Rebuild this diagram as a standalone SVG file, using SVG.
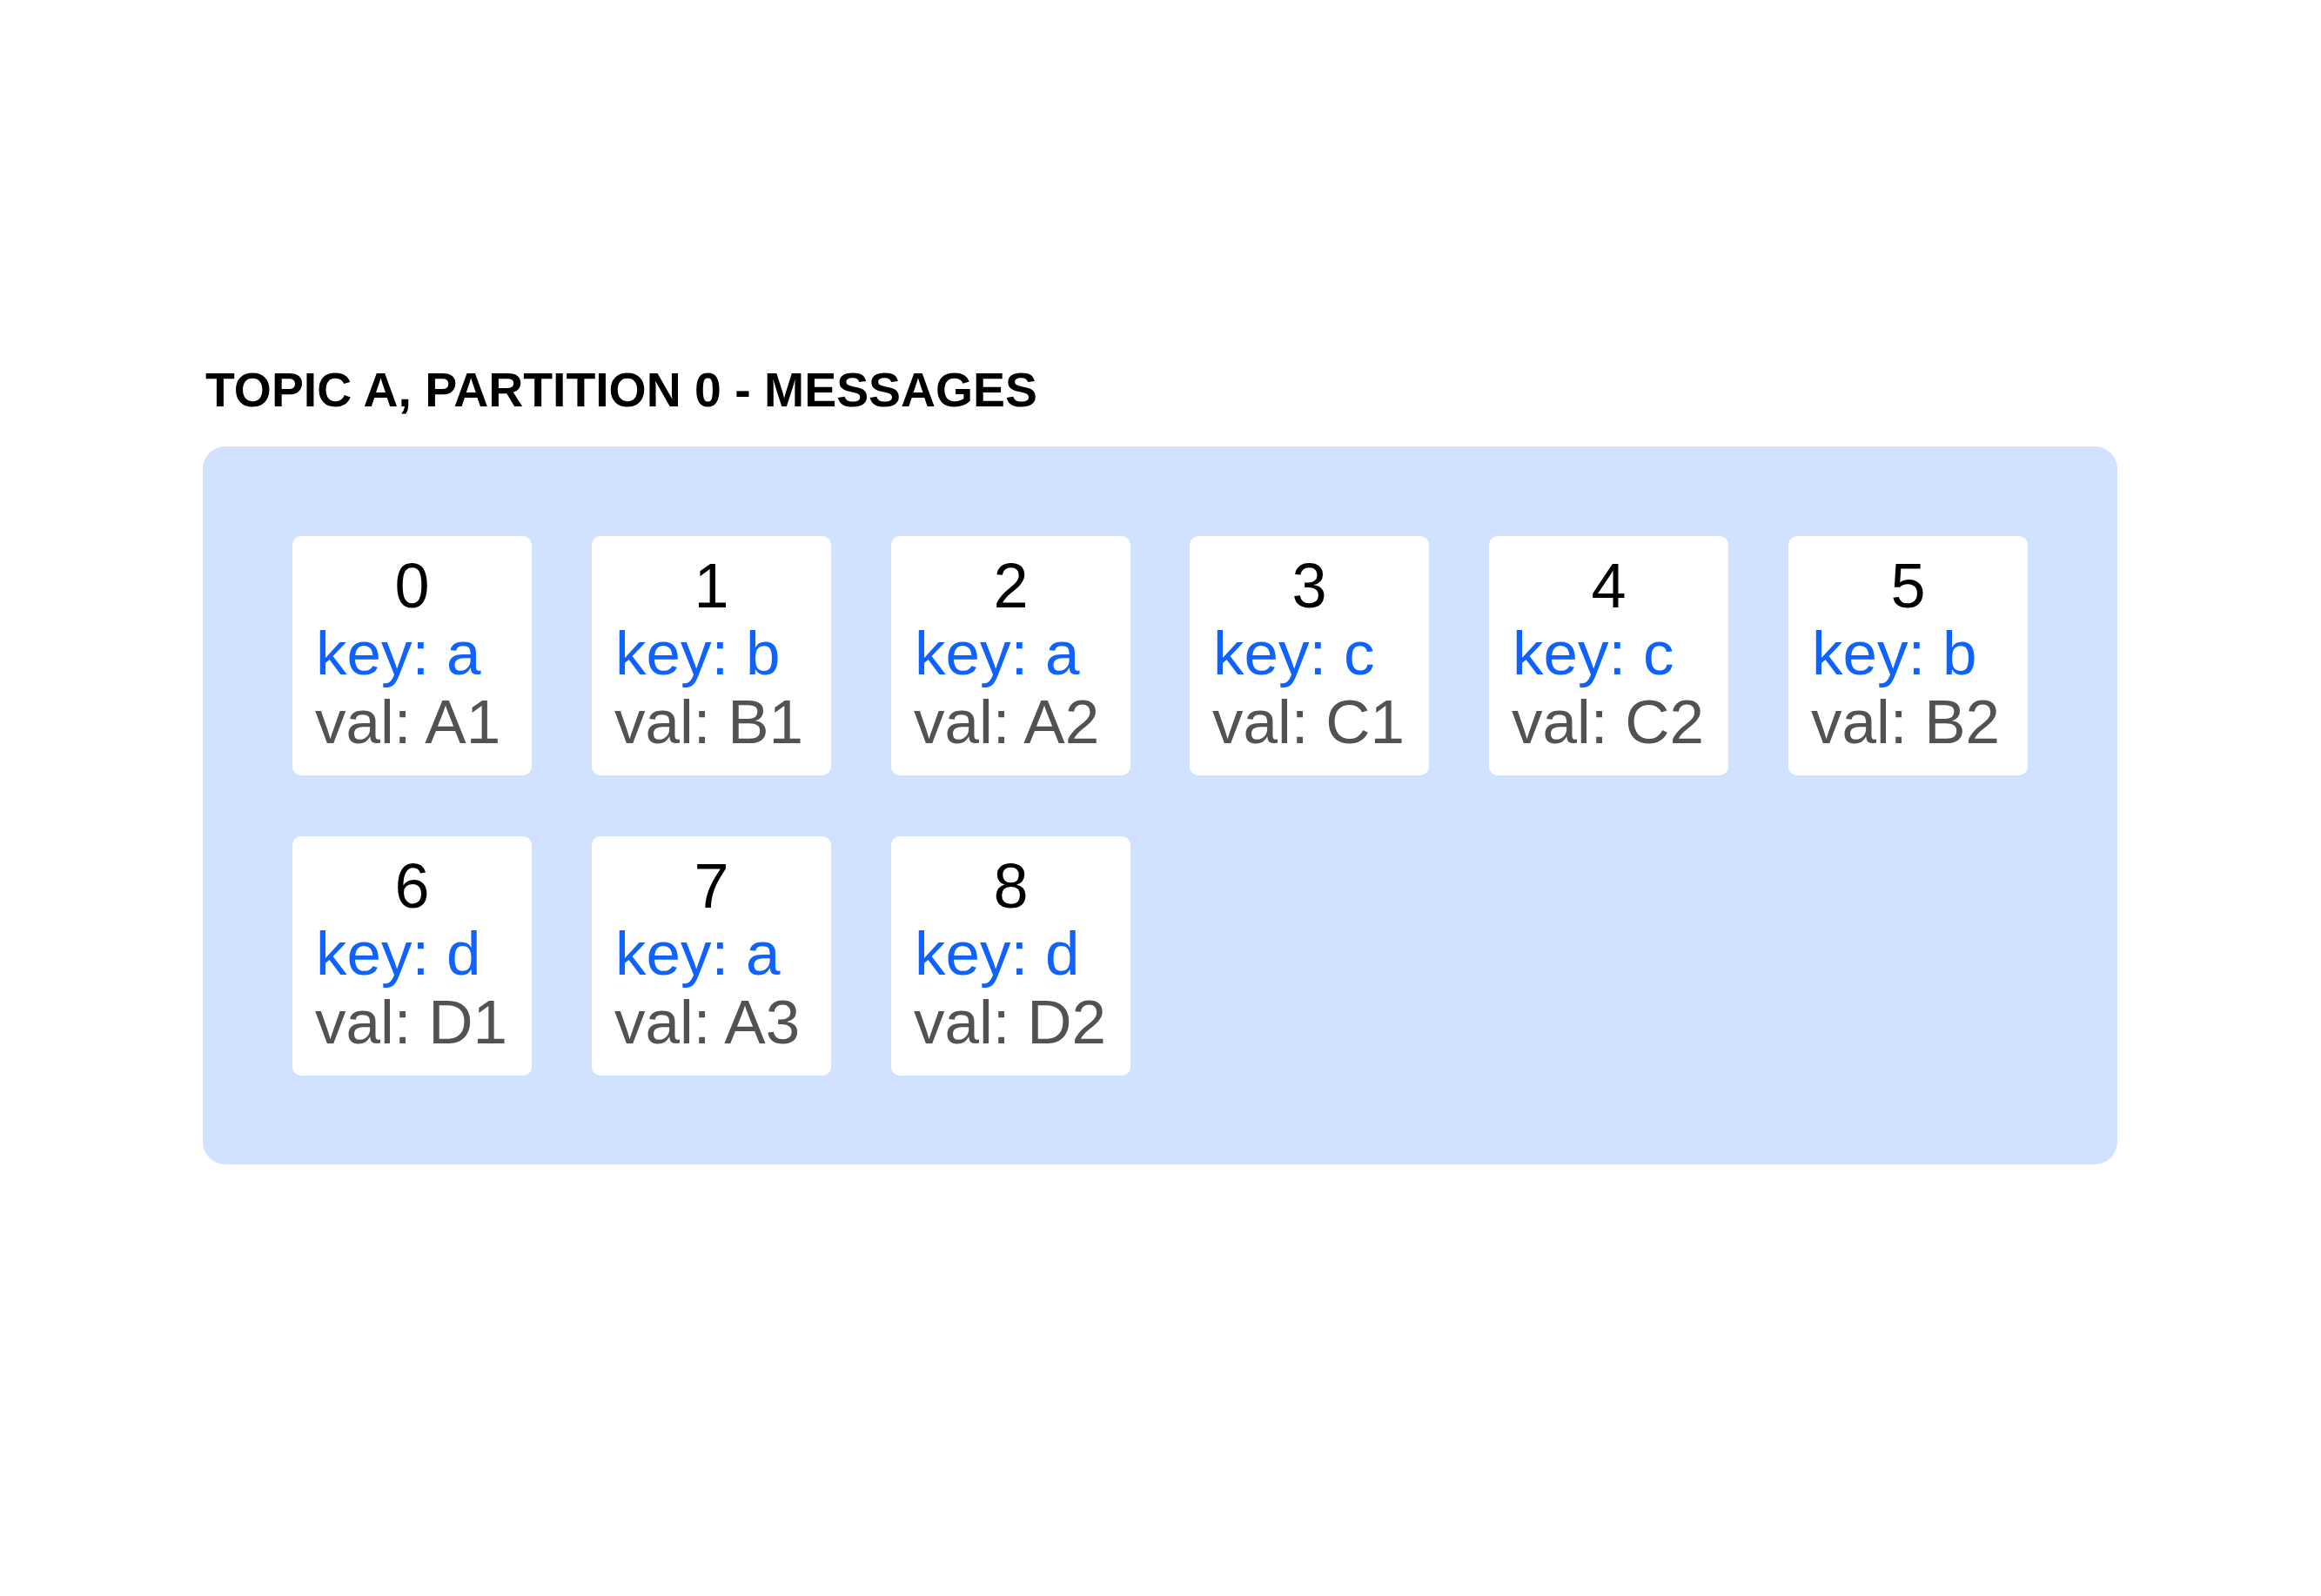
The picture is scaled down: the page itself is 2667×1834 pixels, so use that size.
<svg xmlns="http://www.w3.org/2000/svg" width="2667" height="1834" viewBox="0 0 2667 1834">
<style>
.bg{fill:#ffffff}
.panel{fill:#d0e2ff}
.box{fill:#ffffff}
.t{font-family:"Liberation Sans","Noto Sans",Arial,sans-serif}
.title{font-size:55px;font-weight:bold;fill:#000000}
.num{font-size:72px;fill:#000000;text-anchor:middle}
.key{font-size:71px;fill:#0f62fe}
.val{font-size:71px;fill:#525252}
</style>
<rect class="bg" x="0" y="0" width="2667" height="1834"/>
<text id="title" class="t title" x="236" y="467" textLength="956" lengthAdjust="spacingAndGlyphs">TOPIC A, PARTITION 0 - MESSAGES</text>
<rect id="partition" class="panel" x="233" y="513" width="2200" height="825" rx="26" ry="26"/>
<g id="msg0"><rect class="box" x="336" y="616" width="275" height="275" rx="10"/><text class="t num" x="473.5" y="698">0</text><text class="t key" x="363" y="775">key: a</text><text class="t val" x="362" y="854">val: A1</text></g>
<g id="msg1"><rect class="box" x="680" y="616" width="275" height="275" rx="10"/><text class="t num" x="817.5" y="698">1</text><text class="t key" x="707" y="775">key: b</text><text class="t val" x="706" y="854">val: B1</text></g>
<g id="msg2"><rect class="box" x="1024" y="616" width="275" height="275" rx="10"/><text class="t num" x="1161.5" y="698">2</text><text class="t key" x="1051" y="775">key: a</text><text class="t val" x="1050" y="854">val: A2</text></g>
<g id="msg3"><rect class="box" x="1367" y="616" width="275" height="275" rx="10"/><text class="t num" x="1504.5" y="698">3</text><text class="t key" x="1394" y="775">key: c</text><text class="t val" x="1393" y="854">val: C1</text></g>
<g id="msg4"><rect class="box" x="1711" y="616" width="275" height="275" rx="10"/><text class="t num" x="1848.5" y="698">4</text><text class="t key" x="1738" y="775">key: c</text><text class="t val" x="1737" y="854">val: C2</text></g>
<g id="msg5"><rect class="box" x="2055" y="616" width="275" height="275" rx="10"/><text class="t num" x="2192.5" y="698">5</text><text class="t key" x="2082" y="775">key: b</text><text class="t val" x="2081" y="854">val: B2</text></g>
<g id="msg6"><rect class="box" x="336" y="961" width="275" height="275" rx="10"/><text class="t num" x="473.5" y="1043">6</text><text class="t key" x="363" y="1120">key: d</text><text class="t val" x="362" y="1199">val: D1</text></g>
<g id="msg7"><rect class="box" x="680" y="961" width="275" height="275" rx="10"/><text class="t num" x="817.5" y="1043">7</text><text class="t key" x="707" y="1120">key: a</text><text class="t val" x="706" y="1199">val: A3</text></g>
<g id="msg8"><rect class="box" x="1024" y="961" width="275" height="275" rx="10"/><text class="t num" x="1161.5" y="1043">8</text><text class="t key" x="1051" y="1120">key: d</text><text class="t val" x="1050" y="1199">val: D2</text></g>
<g id="connectors"></g>
</svg>
